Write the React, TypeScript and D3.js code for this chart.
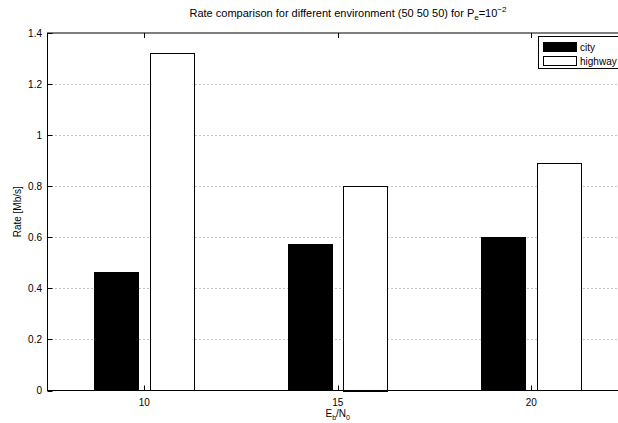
import React from "react";
import * as d3 from "d3";

const categories = [10, 15, 20];
const seriesNames = ["city", "highway"];
const cityValues = [0.463, 0.573, 0.601];
const highwayValues = [1.321, 0.802, 0.889];
const yTicks = [0, 0.2, 0.4, 0.6, 0.8, 1, 1.2, 1.4];
const yTickLabels = ["0", "0.2", "0.4", "0.6", "0.8", "1", "1.2", "1.4"];

const W = 618;
const H = 423;
const left = 47.5;
const right = 628;
const top = 33;
const bottom = 390.5;

export default function App() {
  const x = d3.scaleLinear().domain([7.5, 22.5]).range([left, right]);
  const y = d3.scaleLinear().domain([0, 1.4]).range([bottom, top]);
  const groupWidth = Math.min(0.8, 2 / 3.5) * 5;
  const offset = groupWidth / 4;
  const barW = (groupWidth / 2) * 0.8;
  const series = [
    { name: seriesNames[0], values: cityValues, fill: "#000", off: -offset },
    { name: seriesNames[1], values: highwayValues, fill: "#fff", off: offset },
  ];
  const font = "'Liberation Sans', Arial, Helvetica, sans-serif";
  const tickLen = 5;
  return (
    <svg
      width={W}
      height={H}
      style={{ position: "absolute", left: 0, top: 0, background: "#fff" }}
      fontFamily={font}
    >
      <rect x={0} y={0} width={W} height={H} fill="#fff" />
      {/* grid */}
      {yTicks.slice(1, -1).map((t) => (
        <line
          key={"g" + t}
          x1={left}
          x2={right}
          y1={Math.round(y(t)) + 0.5}
          y2={Math.round(y(t)) + 0.5}
          stroke="#888"
          strokeWidth={1}
          strokeDasharray="1,3"
        />
      ))}
      {/* x ticks (drawn under bars) */}
      {categories.map((c) => (
        <g key={"xt" + c}>
          <line x1={Math.round(x(c)) + 0.5} x2={Math.round(x(c)) + 0.5} y1={bottom} y2={bottom - tickLen} stroke="#000" />
          <line x1={Math.round(x(c)) + 0.5} x2={Math.round(x(c)) + 0.5} y1={top} y2={top + tickLen} stroke="#000" />
        </g>
      ))}
      {/* bars */}
      {series.map((s) =>
        s.values.map((v, i) => {
          const x0 = x(categories[i] + s.off - barW / 2);
          const x1 = x(categories[i] + s.off + barW / 2);
          return (
            <rect
              key={s.name + i}
              x={Math.round(x0) + 0.5}
              y={Math.round(y(v)) + 0.5}
              width={Math.round(x1 - x0)}
              height={Math.round(bottom - y(v))}
              fill={s.fill}
              stroke="#000"
              strokeWidth={1}
            />
          );
        })
      )}
      {/* y ticks */}
      {yTicks.map((t, i) => (
        <g key={"yt" + t}>
          <line x1={left} x2={left + tickLen} y1={Math.round(y(t)) + 0.5} y2={Math.round(y(t)) + 0.5} stroke="#000" />
          <text x={42} y={y(t) + 3.5} fontSize={10} textAnchor="end" fill="#000">
            {yTickLabels[i]}
          </text>
        </g>
      ))}
      {/* frame */}
      <rect x={left} y={top} width={right - left} height={bottom - top} fill="none" stroke="#000" strokeWidth={1} />
      {/* x tick labels */}
      {categories.map((c) => (
        <text key={"xl" + c} x={x(c)} y={406} fontSize={10} textAnchor="middle" fill="#000">
          {c}
        </text>
      ))}
      {/* x label */}
      <text x={x(15)} y={417} fontSize={10} textAnchor="middle" fill="#000">
        E<tspan fontSize={7} dy={3}>b</tspan>
        <tspan dy={-3}>/N</tspan>
        <tspan fontSize={7} dy={3}>0</tspan>
      </text>
      {/* y label */}
      <text
        transform={`translate(21,${(top + bottom) / 2}) rotate(-90)`}
        fontSize={10}
        textAnchor="middle"
        fill="#000"
      >
        Rate [Mb/s]
      </text>
      {/* title */}
      <text x={348} y={17} fontSize={11} textAnchor="middle" fill="#000">
        Rate comparison for different environment (50 50 50) for P
        <tspan fontSize={8} dy={3}>e</tspan>
        <tspan dy={-3}>=10</tspan>
        <tspan fontSize={8} dy={-5}>−2</tspan>
      </text>
      {/* legend */}
      <g>
        <rect x={538.5} y={36.5} width={100} height={32} fill="#fff" stroke="#000" strokeWidth={1} />
        <rect x={543.5} y={42.5} width={33} height={9} fill="#000" stroke="#000" />
        <rect x={543.5} y={56.5} width={33} height={9} fill="#fff" stroke="#000" />
        <text x={580} y={51} fontSize={10} fill="#000">{seriesNames[0]}</text>
        <text x={580} y={64.5} fontSize={10} fill="#000">{seriesNames[1]}</text>
      </g>
    </svg>
  );
}
